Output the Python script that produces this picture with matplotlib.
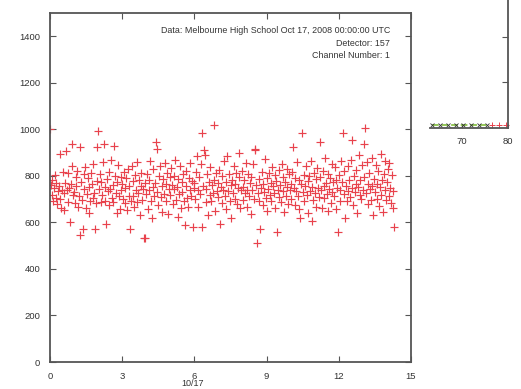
import numpy as np
import matplotlib
matplotlib.use("Agg")
import matplotlib.pyplot as plt

plt.rcParams['font.family'] = ['Liberation Sans', 'DejaVu Sans']

# counts per 2-minute sample, grouped by hour (Oct 17, 2008 UTC)
h00 = [1000, 762, 718, 781, 690, 748, 802, 771, 705, 679, 736, 757, 892, 702, 664, 741, 815, 728, 653, 771, 905, 739, 686, 812, 748, 603, 766, 842, 935, 719]
h01 = [731, 684, 796, 758, 823, 667, 712, 546, 925, 774, 698, 570, 745, 807, 836, 662, 721, 789, 754, 640, 693, 812, 767, 705, 851, 728, 570, 682, 776, 925]
h02 = [994, 743, 806, 689, 772, 718, 860, 935, 751, 694, 593, 788, 733, 815, 676, 742, 869, 707, 762, 688, 930, 801, 726, 639, 774, 845, 712, 657, 796, 739]
h03 = [765, 702, 818, 684, 747, 791, 653, 829, 713, 758, 570, 694, 842, 776, 715, 668, 803, 739, 688, 861, 726, 781, 632, 756, 812, 697, 744, 531, 535, 770]
h04 = [722, 806, 659, 781, 741, 866, 694, 617, 753, 829, 712, 768, 947, 915, 731, 675, 798, 842, 709, 756, 643, 787, 721, 854, 690, 764, 812, 637, 745, 793]
h05 = [716, 834, 762, 678, 801, 743, 869, 697, 752, 625, 786, 720, 842, 661, 774, 731, 809, 690, 588, 757, 821, 704, 668, 792, 738, 855, 713, 779, 581, 746]
h06 = [771, 702, 818, 887, 739, 665, 796, 724, 852, 983, 581, 757, 910, 890, 688, 742, 806, 631, 775, 716, 839, 693, 760, 728, 1018, 784, 649, 811, 735, 768]
h07 = [709, 826, 593, 752, 684, 798, 741, 862, 715, 774, 656, 887, 733, 808, 692, 759, 621, 784, 726, 843, 701, 767, 814, 680, 748, 796, 900, 662, 738, 819]
h08 = [754, 697, 782, 725, 856, 668, 741, 808, 713, 770, 634, 795, 738, 849, 702, 915, 911, 760, 513, 726, 785, 691, 570, 748, 817, 675, 763, 730, 872, 706]
h09 = [789, 651, 744, 813, 719, 768, 692, 839, 757, 728, 803, 664, 776, 557, 741, 825, 708, 761, 687, 852, 734, 797, 645, 772, 715, 830, 754, 681, 806, 739]
h10 = [763, 702, 817, 925, 748, 676, 791, 735, 858, 712, 784, 659, 617, 766, 983, 729, 804, 690, 757, 843, 718, 779, 641, 801, 736, 865, 606, 752, 695, 812]
h11 = [727, 786, 668, 834, 749, 710, 795, 947, 738, 662, 821, 757, 703, 878, 769, 724, 648, 807, 742, 791, 685, 852, 731, 773, 712, 836, 659, 784, 748, 557]
h12 = [805, 738, 691, 866, 772, 983, 724, 819, 617, 757, 693, 841, 736, 782, 708, 867, 749, 954, 674, 798, 731, 825, 766, 640, 752, 889, 716, 783, 702, 847]
h13 = [739, 794, 935, 1007, 725, 858, 681, 767, 812, 744, 698, 876, 755, 632, 788, 729, 845, 701, 766, 822, 672, 751, 893, 718, 784, 646, 807, 739, 862, 695]
h14 = [773, 828, 712, 857, 746, 683, 804, 735, 662, 581]

counts = h00 + h01 + h02 + h03 + h04 + h05 + h06 + h07 + h08 + h09 + h10 + h11 + h12 + h13 + h14
sample_minutes = 2
hours = np.arange(len(counts)) * sample_minutes / 60.0

x_ticks = [0, 3, 6, 9, 12, 15]
y_ticks = [0, 200, 400, 600, 800, 1000, 1200, 1400]
info_lines = ["Data: Melbourne High School Oct 17, 2008 00:00:00 UTC",
              "Detector: 157",
              "Channel Number: 1"]

# fragment of a neighbouring plot
frag_green_x = [63.5, 65.2, 66.9, 68.6, 70.3, 72.0, 73.7, 75.4]
frag_green_y = [0.05, 0.05, 0.05, 0.05, 0.05, 0.05, 0.05, 0.05]
frag_red_x = [76.6, 78.1, 79.6]
frag_red_y = [0.05, 0.05, 0.05]
frag_x_ticks = [70, 80]

W, H = 521, 389
fig = plt.figure(figsize=(W / 100, H / 100), dpi=100)
spine_col = '#555555'
text_col = '#333333'

ax = fig.add_axes([50 / W, 1 - 362 / H, (411 - 50) / W, (362 - 13) / H])
ax.plot(hours, counts, linestyle='none', marker='+', color='#e8424c',
        markersize=5.5, markeredgewidth=0.85)
ax.set_xlim(0, 15)
ax.set_ylim(0, 1500)
ax.set_xticks(x_ticks)
ax.set_yticks(y_ticks)
ax.tick_params(direction='in', top=True, right=True, length=4, width=0.8,
               color=spine_col, labelsize=6.8, labelcolor=text_col, pad=7)
for s in ax.spines.values():
    s.set_color(spine_col)
    s.set_linewidth(1.3)
for k, line in enumerate(info_lines):
    ax.text(0.942, 0.95 - k * 0.036, line, transform=ax.transAxes,
            ha='right', va='center', fontsize=6.4, color=text_col)

fig.text(193 / W, 1 - 384 / H, "10/17", ha='center', va='center',
         fontsize=6.5, color=text_col)

ax2 = fig.add_axes([430 / W, 1 - 127.5 / H, (508 - 430) / W, 135.3 / H])
ax2.plot(frag_green_x, frag_green_y, linestyle='--', color='#8bc34a',
         linewidth=1.3, marker='x', markersize=2.5, markeredgecolor='#333333',
         markeredgewidth=0.6, clip_on=False)
ax2.plot(frag_red_x, frag_red_y, linestyle='none', marker='+', color='#e8424c',
         markersize=4, markeredgewidth=0.7, clip_on=False)
ax2.set_xlim(63, 80)
ax2.set_ylim(0, 3)
ax2.set_xticks(frag_x_ticks)
ax2.set_yticks([1, 2])
ax2.yaxis.tick_right()
ax2.tick_params(axis='y', direction='in', length=4, width=0.8, color=spine_col,
                labelright=False, labelleft=False)
ax2.tick_params(axis='x', direction='in', length=3, width=0.8, color=spine_col,
                labelsize=6.8, labelcolor=text_col, pad=7)
ax2.spines['left'].set_visible(False)
ax2.spines['top'].set_visible(False)
for s in ('right', 'bottom'):
    ax2.spines[s].set_color(spine_col)
    ax2.spines[s].set_linewidth(1.3)
ax2.patch.set_alpha(0)

fig.savefig("out.png", dpi=100)
